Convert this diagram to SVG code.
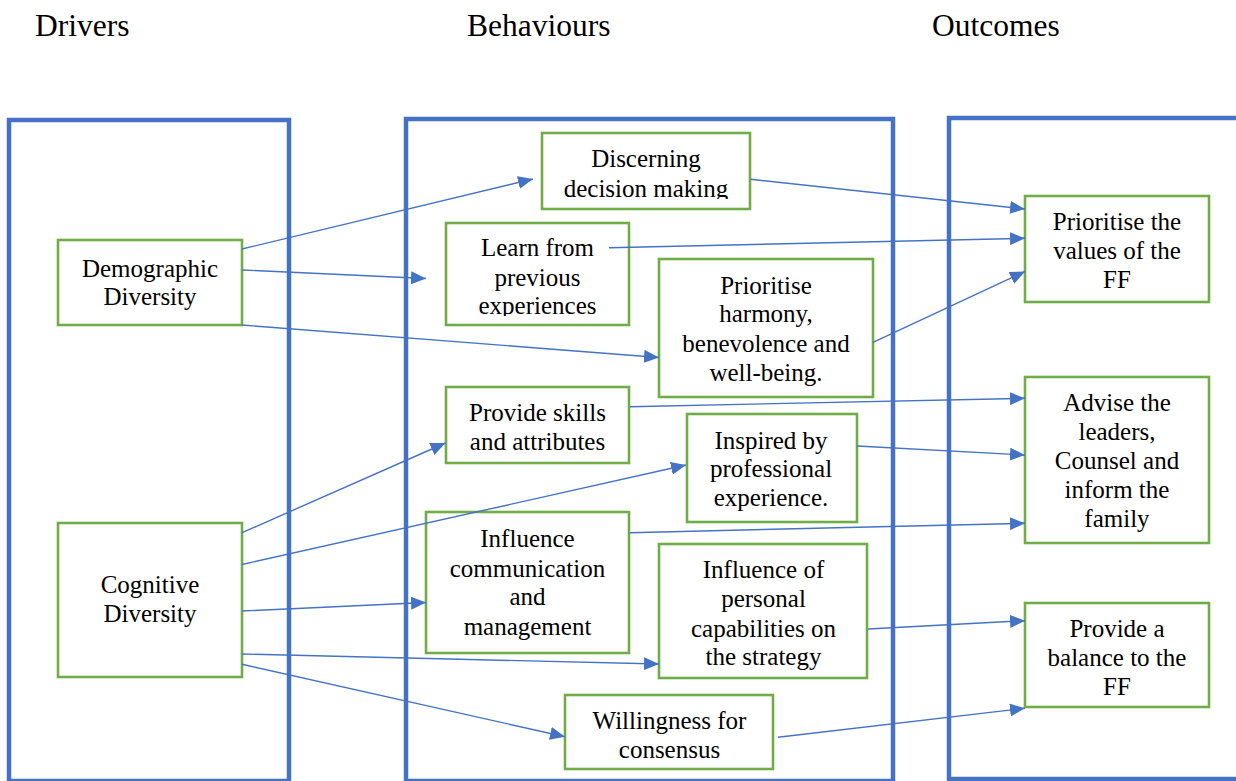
<svg xmlns="http://www.w3.org/2000/svg" width="1236" height="781" viewBox="0 0 1236 781">
<style>
.col{fill:none;stroke:#4472C4;stroke-width:4.5}
.box{fill:#fff;stroke:#70AD47;stroke-width:2.6}
.t{font-size:25px;fill:#000;text-anchor:middle}
.h{font-size:31.5px;fill:#000}
.c{fill:none;stroke:#4472C4;stroke-width:1.4;marker-end:url(#ah)}
</style>
<defs>
<marker id="ah" markerUnits="userSpaceOnUse" markerWidth="15" markerHeight="13" refX="15" refY="6.5" orient="auto">
<path d="M0,0 L15,6.5 L0,13 z" fill="#4472C4"/>
</marker>
<clipPath id="clipDisc"><rect x="542" y="133" width="208" height="66"/></clipPath>
<clipPath id="clipLearn"><rect x="446" y="223" width="183" height="93"/></clipPath>
</defs>
<rect width="1236" height="781" fill="#fff"/>
<g id="headers" font-family="Liberation Serif">
<text class="h" x="35" y="36" font-family="Liberation Serif">Drivers</text>
<text class="h" x="467" y="36" font-family="Liberation Serif">Behaviours</text>
<text class="h" x="932" y="36" font-family="Liberation Serif">Outcomes</text>
</g>
<g id="columns">
<rect id="col-drivers" class="col" x="9" y="120" width="280" height="661"/>
<rect id="col-behaviours" class="col" x="406" y="119" width="487" height="662"/>
<rect id="col-outcomes" class="col" x="949" y="118" width="400" height="661"/>
</g>
<g id="nodes" font-family="Liberation Serif">
<g id="demographic">
<rect class="box" x="58" y="240" width="184" height="85"/>
<text class="t" x="150" y="277" font-family="Liberation Serif">Demographic</text>
<text class="t" x="150" y="305" font-family="Liberation Serif">Diversity</text>
</g>
<g id="cognitive">
<rect class="box" x="58" y="523" width="184" height="154"/>
<text class="t" x="150" y="593" font-family="Liberation Serif">Cognitive</text>
<text class="t" x="150" y="622" font-family="Liberation Serif">Diversity</text>
</g>
<g id="discerning">
<rect class="box" x="542" y="133" width="208" height="76"/>
<g clip-path="url(#clipDisc)">
<text class="t" x="646" y="167" font-family="Liberation Serif">Discerning</text>
<text class="t" x="646" y="197" font-family="Liberation Serif">decision making</text>
</g>
</g>
<g id="learn">
<rect class="box" x="446" y="223" width="183" height="102"/>
<g clip-path="url(#clipLearn)">
<text class="t" x="537.5" y="256" font-family="Liberation Serif">Learn from</text>
<text class="t" x="537.5" y="285.5" font-family="Liberation Serif">previous</text>
<text class="t" x="537.5" y="314" font-family="Liberation Serif">experiences</text>
</g>
</g>
<g id="harmony">
<rect class="box" x="659" y="259" width="214" height="138"/>
<text class="t" x="766" y="293.5" font-family="Liberation Serif">Prioritise</text>
<text class="t" x="766" y="322" font-family="Liberation Serif">harmony,</text>
<text class="t" x="766" y="351.5" font-family="Liberation Serif">benevolence and</text>
<text class="t" x="766" y="380.5" font-family="Liberation Serif">well-being.</text>
</g>
<g id="skills">
<rect class="box" x="446" y="387" width="183" height="76"/>
<text class="t" x="537.5" y="421" font-family="Liberation Serif">Provide skills</text>
<text class="t" x="537.5" y="450" font-family="Liberation Serif">and attributes</text>
</g>
<g id="inspired">
<rect class="box" x="687" y="414" width="170" height="108"/>
<text class="t" x="771" y="448.5" font-family="Liberation Serif">Inspired by</text>
<text class="t" x="771" y="477" font-family="Liberation Serif">professional</text>
<text class="t" x="771" y="506" font-family="Liberation Serif">experience.</text>
</g>
<g id="communication">
<rect class="box" x="426" y="512" width="203" height="141"/>
<text class="t" x="527.5" y="547" font-family="Liberation Serif">Influence</text>
<text class="t" x="527.5" y="576.5" font-family="Liberation Serif">communication</text>
<text class="t" x="527.5" y="605" font-family="Liberation Serif">and</text>
<text class="t" x="527.5" y="635" font-family="Liberation Serif">management</text>
</g>
<g id="personal">
<rect class="box" x="659" y="544" width="208" height="134"/>
<text class="t" x="763.5" y="577.5" font-family="Liberation Serif">Influence of</text>
<text class="t" x="763.5" y="607" font-family="Liberation Serif">personal</text>
<text class="t" x="763.5" y="636.5" font-family="Liberation Serif">capabilities on</text>
<text class="t" x="763.5" y="665" font-family="Liberation Serif">the strategy</text>
</g>
<g id="willingness">
<rect class="box" x="565" y="695" width="208" height="74"/>
<text class="t" x="669.5" y="728.5" font-family="Liberation Serif">Willingness for</text>
<text class="t" x="669.5" y="757.5" font-family="Liberation Serif">consensus</text>
</g>
<g id="values">
<rect class="box" x="1025" y="196" width="184" height="106"/>
<text class="t" x="1117" y="229.5" font-family="Liberation Serif">Prioritise the</text>
<text class="t" x="1117" y="258.5" font-family="Liberation Serif">values of the</text>
<text class="t" x="1117" y="287.5" font-family="Liberation Serif">FF</text>
</g>
<g id="advise">
<rect class="box" x="1025" y="377" width="184" height="166"/>
<text class="t" x="1117" y="411" font-family="Liberation Serif">Advise the</text>
<text class="t" x="1117" y="440" font-family="Liberation Serif">leaders,</text>
<text class="t" x="1117" y="469" font-family="Liberation Serif">Counsel and</text>
<text class="t" x="1117" y="498" font-family="Liberation Serif">inform the</text>
<text class="t" x="1117" y="527" font-family="Liberation Serif">family</text>
</g>
<g id="balance">
<rect class="box" x="1025" y="603" width="184" height="104"/>
<text class="t" x="1117" y="637" font-family="Liberation Serif">Provide a</text>
<text class="t" x="1117" y="665.5" font-family="Liberation Serif">balance to the</text>
<text class="t" x="1117" y="694.5" font-family="Liberation Serif">FF</text>
</g>
</g>
<g id="connectors">
<line class="c" x1="242" y1="249" x2="533" y2="179"/>
<line class="c" x1="242" y1="270" x2="426" y2="278.5"/>
<line class="c" x1="242" y1="325" x2="659" y2="357.5"/>
<line class="c" x1="750.5" y1="179.3" x2="1025" y2="209"/>
<line class="c" x1="609" y1="247.7" x2="1025" y2="238.3"/>
<line class="c" x1="873" y1="342.3" x2="1025" y2="271.5"/>
<line class="c" x1="630" y1="406.7" x2="1025" y2="398.3"/>
<line class="c" x1="857" y1="446" x2="1025" y2="455"/>
<line class="c" x1="630" y1="532.7" x2="1025" y2="523.3"/>
<line class="c" x1="868" y1="629" x2="1025" y2="620.7"/>
<line class="c" x1="778" y1="737.3" x2="1025" y2="708.3"/>
<line class="c" x1="242" y1="532.7" x2="445.5" y2="443"/>
<line class="c" x1="242" y1="564.5" x2="686" y2="465"/>
<line class="c" x1="242" y1="611" x2="426" y2="602.5"/>
<line class="c" x1="242" y1="654" x2="659" y2="664"/>
<line class="c" x1="242" y1="664.3" x2="565" y2="736.7"/>
</g>
</svg>
